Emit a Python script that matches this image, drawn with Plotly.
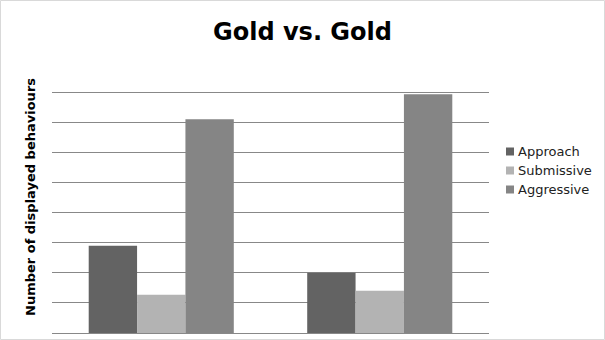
import plotly.graph_objects as go

categories = ["Group 1", "Group 2"]
series_names = ["Approach", "Submissive", "Aggressive"]
approach = [2.9, 2.0]
submissive = [1.27, 1.4]
aggressive = [7.1, 7.93]
colors = ["#636363", "#b3b3b3", "#858585"]

W, H = 605, 340
L, R, T, B = 52, 116, 62, 7
pw = W - L - R
ph = H - T - B


def px_x(x):
    return (x - L) / pw


def px_y(y):
    return (H - B - y) / ph


fig = go.Figure()
for name, vals, c in zip(series_names, [approach, submissive, aggressive], colors):
    fig.add_trace(go.Bar(name=name, x=categories, y=vals, showlegend=False,
                         marker=dict(color=c, line=dict(width=0))))

fig.update_layout(
    width=W, height=H,
    margin=dict(l=L, r=R, t=T, b=B, autoexpand=False),
    paper_bgcolor="white", plot_bgcolor="white",
    barmode="group", bargap=0.336, bargroupgap=0,
    font=dict(family="DejaVu Sans", color="#000000"),
    title=dict(text="<b>Gold vs. Gold</b>", x=0.5, xref="container", y=1 - 32 / H,
               yref="container", xanchor="center", yanchor="middle",
               font=dict(size=24, family="DejaVu Sans", color="#000")),
    xaxis=dict(showticklabels=False, showgrid=False, zeroline=False, showline=False, ticks=""),
    yaxis=dict(range=[0, 9.005], tickvals=list(range(0, 10)), showticklabels=False, showgrid=True,
               gridcolor="#888888", gridwidth=1, zeroline=True, zerolinecolor="#888888",
               zerolinewidth=1, ticks="", showline=False),
    showlegend=False,
)

# legend drawn manually
for i, (name, c) in enumerate(zip(series_names, colors)):
    yc = 151.5 + i * 19
    fig.add_shape(type="rect", xref="paper", yref="paper",
                  x0=px_x(506), x1=px_x(514), y0=px_y(yc - 4), y1=px_y(yc + 4),
                  line=dict(width=0), fillcolor=c)
    fig.add_annotation(text=name, xref="paper", yref="paper", x=px_x(516), y=px_y(yc),
                       xanchor="left", yanchor="middle", showarrow=False,
                       font=dict(size=13, family="DejaVu Sans", color="#222"))

fig.add_annotation(text="<b>Number of displayed behaviours</b>", xref="paper", yref="paper",
                   x=px_x(30), y=px_y(197), textangle=-90, showarrow=False,
                   xanchor="center", yanchor="middle",
                   font=dict(size=13, family="DejaVu Sans", color="#000"))

fig.add_shape(type="rect", xref="paper", yref="paper",
              x0=px_x(0.5), x1=px_x(W - 0.5), y0=px_y(H - 0.5), y1=px_y(0.5),
              line=dict(color="#d9d9d9", width=1), fillcolor="rgba(0,0,0,0)", layer="below")

fig.write_html("out.html")
